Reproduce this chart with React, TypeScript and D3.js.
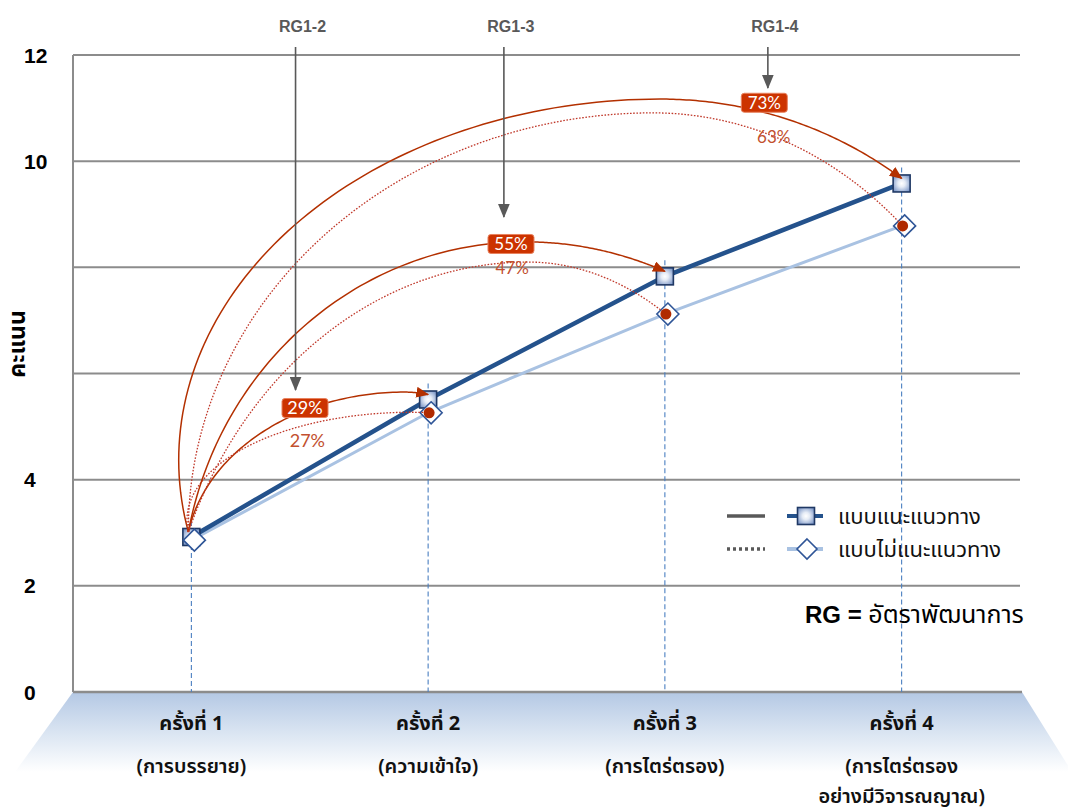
import React from 'react';
import * as d3 from 'd3';

// ---------- data ----------
const categories = ['ครั้งที่ 1', 'ครั้งที่ 2', 'ครั้งที่ 3', 'ครั้งที่ 4'];
const categorySubLabels = [
  ['(การบรรยาย)'],
  ['(ความเข้าใจ)'],
  ['(การไตร่ตรอง)'],
  ['(การไตร่ตรอง', 'อย่างมีวิจารณญาณ)'],
];
const guided = [2.92, 5.51, 7.83, 9.58];
const unguided = [2.86, 5.26, 7.12, 8.78];
const yTicks = [0, 2, 4, 10, 12];
const gridValues = [2, 4, 6, 8, 10, 12];
const seriesNames = ['แบบแนะแนวทาง', 'แบบไม่แนะแนวทาง'];
const yTitle = 'คะแนน';
const noteBold = 'RG =';
const noteText = 'อัตราพัฒนาการ';

// growth-rate arcs (annotation geometry in data units: category position / score)
const growthArcs = [
  { from: 0, to: 1, series: 'guided', label: '29%', apexPos: 0.9, apexVal: 5.65, centerVal: 2.49, labelPos: 0.48, labelVal: 5.35 },
  { from: 0, to: 1, series: 'unguided', label: '27%', apexPos: 0.93, apexVal: 5.27, centerVal: 3.24, labelPos: 0.49, labelVal: 4.73 },
  { from: 0, to: 2, series: 'guided', label: '55%', apexPos: 1.41, apexVal: 8.48, centerVal: 1.73, labelPos: 1.35, labelVal: 8.44 },
  { from: 0, to: 2, series: 'unguided', label: '47%', apexPos: 1.42, apexVal: 8.1, centerVal: -0.15, labelPos: 1.355, labelVal: 7.99 },
  { from: 0, to: 3, series: 'guided', label: '73%', apexPos: 1.98, apexVal: 11.17, centerVal: 4.37, labelPos: 2.42, labelVal: 11.1 },
  { from: 0, to: 3, series: 'unguided', label: '63%', apexPos: 1.95, apexVal: 10.91, centerVal: 3.05, labelPos: 2.46, labelVal: 10.46 },
];
const rgMarkers = [
  { label: 'RG1-2', pos: 0.44, tipVal: 5.69 },
  { label: 'RG1-3', pos: 1.32, tipVal: 8.95 },
  { label: 'RG1-4', pos: 2.435, tipVal: 11.38 },
];

// ---------- layout ----------
const W = 1068;
const H = 811;
const PLOT = { left: 73, right: 1020, top: 55, bottom: 692 };
const LATIN = "'Liberation Sans', Arial, sans-serif";
const THAI = "'Noto Sans Thai', 'Noto Sans Thai Looped', 'Loma', 'Garuda', 'Norasi', 'Noto Sans', 'DejaVu Sans', sans-serif";
const PCT = "Lato, 'Liberation Sans', sans-serif";

const ARC_RED = '#b33000';
const DOT_RED = '#c2502f';

function ellipseArc(x0: number, y0: number, xa: number, ya: number, x1: number, y1: number, cy: number) {
  const ry = cy - ya;
  const rx1 = Math.abs(x0 - xa) / Math.sqrt(Math.max(1e-6, 1 - ((y0 - cy) / ry) ** 2));
  const rx2 = Math.abs(x1 - xa) / Math.sqrt(Math.max(1e-6, 1 - ((y1 - cy) / ry) ** 2));
  let t0 = Math.atan2((cy - y0) / ry, (x0 - xa) / rx1);
  if (t0 < 0) t0 += 2 * Math.PI;
  const t1 = Math.atan2((cy - y1) / ry, (x1 - xa) / rx2);
  const pts: [number, number][] = [];
  const n = 80;
  for (let i = 0; i <= n; i++) {
    const t = t0 + ((Math.PI / 2 - t0) * i) / n;
    pts.push([xa + rx1 * Math.cos(t), cy - ry * Math.sin(t)]);
  }
  for (let i = 1; i <= n; i++) {
    const t = Math.PI / 2 + ((t1 - Math.PI / 2) * i) / n;
    pts.push([xa + rx2 * Math.cos(t), cy - ry * Math.sin(t)]);
  }
  return pts;
}

export default function App() {
  const x = d3.scaleBand<string>().domain(categories).range([PLOT.left, PLOT.right]);
  const cx = (i: number) => (x(categories[i]) as number) + x.bandwidth() / 2;
  const xPos = (p: number) => cx(0) + p * x.step();
  const y = d3.scaleLinear().domain([0, 12]).range([PLOT.bottom, PLOT.top]);

  const line = d3.line<number>().x((_, i) => cx(i)).y((d) => y(d));
  const curve = d3.line<[number, number]>().x((d) => d[0]).y((d) => d[1]);

  const square = (px: number, py: number, s = 17, key?: any) => (
    <rect key={key} x={px - s / 2} y={py - s / 2} width={s} height={s} fill="url(#sqGrad)" stroke="#1f3864" strokeWidth={1.6} />
  );
  const diamond = (px: number, py: number, r = 11, key?: any) => (
    <path key={key} d={`M${px},${py - r}L${px + r},${py}L${px},${py + r}L${px - r},${py}Z`} fill="#fff" stroke="#2f5597" strokeWidth={1.6} />
  );

  const startX = cx(0) - 3;
  const startY = y(guided[0]) - 5;

  return (
    <svg width={W} height={H} style={{ position: 'absolute', left: 0, top: 0, background: '#fff' }}>
      <defs>
        <linearGradient id="floorGrad" x1="0" y1="0" x2="0" y2="1">
          <stop offset="0" stopColor="#b4c8e4" />
          <stop offset="0.55" stopColor="#dde7f3" />
          <stop offset="1" stopColor="#ffffff" />
        </linearGradient>
        <radialGradient id="sqGrad" cx="0.5" cy="0.5" r="0.6">
          <stop offset="0" stopColor="#ffffff" />
          <stop offset="0.35" stopColor="#e6ecf6" />
          <stop offset="1" stopColor="#7d98c8" />
        </radialGradient>
        <marker id="arrowRed" viewBox="0 0 12 10" refX="11" refY="5" markerWidth="13" markerHeight="11" markerUnits="userSpaceOnUse" orient="auto">
          <path d="M0,0L12,5L0,10Z" fill={ARC_RED} />
        </marker>
        <marker id="arrowGray" viewBox="0 0 12 10" refX="11" refY="5" markerWidth="14" markerHeight="12" markerUnits="userSpaceOnUse" orient="auto">
          <path d="M0,0L12,5L0,10Z" fill="#595959" />
        </marker>
      </defs>

      {/* floor */}
      <polygon
        points={`${PLOT.left},${PLOT.bottom} ${PLOT.right + 2},${PLOT.bottom} ${PLOT.right + 52},${PLOT.bottom + 80} ${PLOT.left - 58},${PLOT.bottom + 80}`}
        fill="url(#floorGrad)"
      />

      {/* grid */}
      {gridValues.map((v) => (
        <line key={v} x1={PLOT.left} x2={PLOT.right} y1={y(v)} y2={y(v)} stroke="#8c8c8c" strokeWidth={2} />
      ))}
      <line x1={PLOT.left} x2={PLOT.left} y1={PLOT.top} y2={PLOT.bottom} stroke="#8c8c8c" strokeWidth={2} />
      <line x1={PLOT.left} x2={PLOT.right + 2} y1={PLOT.bottom} y2={PLOT.bottom} stroke="#8c8c8c" strokeWidth={2.5} />

      {/* y ticks */}
      {yTicks.map((v) => (
        <text key={v} x={24} y={y(v)} dy="0.36em" fontFamily={LATIN} fontWeight="bold" fontSize={21} fill="#000">
          {v}
        </text>
      ))}
      <text
        transform={`translate(25,${(y(6) + y(7)) / 2 - 3}) rotate(-90)`}
        textAnchor="middle"
        fontFamily={THAI}
        fontWeight="bold"
        fontSize={23}
        fill="#000"
      >
        {yTitle}
      </text>

      {/* x labels */}
      {categories.map((c, i) => (
        <g key={c} fontFamily={THAI} fill="#111" textAnchor="middle">
          <text x={cx(i)} y={730} fontSize={20} fontWeight="bold">
            {c}
          </text>
          {categorySubLabels[i].map((s, j) => (
            <text key={j} x={cx(i)} y={773 + j * 30} fontSize={20} fontWeight={600}>
              {s}
            </text>
          ))}
        </g>
      ))}

      {/* drop lines */}
      {categories.map((c, i) => (
        <line key={c} x1={cx(i)} x2={cx(i)} y1={y(guided[i]) - 16} y2={PLOT.bottom} stroke="#4a7fc1" strokeWidth={1.1} strokeDasharray="5,3" />
      ))}

      {/* series lines */}
      <path d={line(unguided) as string} fill="none" stroke="#a9c2e2" strokeWidth={3} />
      <path d={line(guided) as string} fill="none" stroke="#24528c" strokeWidth={4.5} />

      {/* markers */}
      {guided.map((v, i) => square(cx(i), y(v), 17, 'g' + i))}
      {unguided.map((v, i) => diamond(cx(i) + 3, y(v), 11, 'u' + i))}

      {/* growth arcs */}
      {growthArcs.map((a, k) => {
        const isG = a.series === 'guided';
        const endX = isG ? cx(a.to) : cx(a.to) + 1;
        const endY = isG ? y(guided[a.to]) - 5 : y(unguided[a.to]);
        const pts = ellipseArc(startX, startY, xPos(a.apexPos), y(a.apexVal), endX, endY, y(a.centerVal));
        return (
          <path
            key={'arc' + k}
            d={curve(pts) as string}
            fill="none"
            stroke={isG ? ARC_RED : '#c0392b'}
            strokeWidth={isG ? 1.5 : 1.3}
            strokeDasharray={isG ? undefined : '1.6,1.6'}
            markerEnd={isG ? 'url(#arrowRed)' : undefined}
          />
        );
      })}
      {growthArcs
        .filter((a) => a.series === 'unguided')
        .map((a, k) => (
          <circle key={'dot' + k} cx={cx(a.to) + 1} cy={y(unguided[a.to])} r={5.5} fill="#b02a00" />
        ))}
      {growthArcs.map((a, k) => {
        const lx = xPos(a.labelPos);
        const ly = y(a.labelVal);
        const fs = a.to === 1 ? 18 : 17;
        if (a.series === 'guided') {
          return (
            <g key={'lab' + k}>
              <rect x={lx - 23} y={ly - 9.5} width={46} height={19} rx={3} fill="#cc3300" stroke="#e8825f" strokeWidth={1} />
              <text x={lx} y={ly} dy="0.36em" textAnchor="middle" fontFamily={PCT} fontSize={fs} fill="#fff">
                {a.label}
              </text>
            </g>
          );
        }
        return (
          <text key={'lab' + k} x={lx} y={ly} dy="0.36em" textAnchor="middle" fontFamily={PCT} fontSize={fs} fill={DOT_RED}>
            {a.label}
          </text>
        );
      })}

      {/* RG arrows */}
      {rgMarkers.map((r) => (
        <g key={r.label}>
          <line x1={xPos(r.pos)} x2={xPos(r.pos)} y1={47} y2={y(r.tipVal)} stroke="#595959" strokeWidth={1.6} markerEnd="url(#arrowGray)" />
          <text x={xPos(r.pos) + 7} y={32} textAnchor="middle" fontFamily={LATIN} fontWeight="bold" fontSize={16} fill="#595959">
            {r.label}
          </text>
        </g>
      ))}

      {/* legend */}
      <g>
        <line x1={727} x2={765} y1={516} y2={516} stroke="#595959" strokeWidth={3.5} />
        <line x1={787} x2={823} y1={516} y2={516} stroke="#24528c" strokeWidth={4} />
        {square(806, 516, 17)}
        <text x={838} y={516} dy="0.35em" fontFamily={THAI} fontSize={22} fill="#111">
          {seriesNames[0]}
        </text>
        <line x1={727} x2={765} y1={549} y2={549} stroke="#595959" strokeWidth={3.5} strokeDasharray="3,3" />
        <line x1={787} x2={823} y1={549} y2={549} stroke="#a9c2e2" strokeWidth={4} />
        {diamond(807, 549, 10)}
        <text x={838} y={549} dy="0.35em" fontFamily={THAI} fontSize={22} fill="#111">
          {seriesNames[1]}
        </text>
      </g>

      {/* note */}
      <text x={805} y={623} fontSize={24} fill="#000">
        <tspan fontFamily={LATIN} fontWeight="bold">{noteBold} </tspan>
        <tspan fontFamily={THAI} fontSize={25}>{noteText}</tspan>
      </text>
    </svg>
  );
}
